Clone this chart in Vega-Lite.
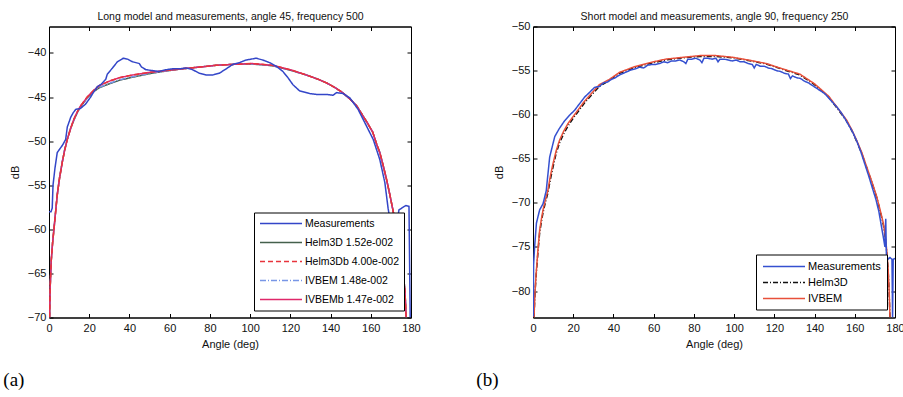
{
  "$schema": "https://vega.github.io/schema/vega-lite/v6.json",
  "background": "white",
  "padding": {"left": 2, "top": 10.5, "right": 0, "bottom": 0},
  "spacing": 54,
  "resolve": {"scale": {"color": "independent", "strokeDash": "independent", "x": "independent", "y": "independent"}, "legend": {"color": "independent", "strokeDash": "independent"}},
  "config": {
    "font": "Liberation Sans",
    "view": {"stroke": "black", "strokeWidth": 1},
    "axis": {
      "grid": false,
      "domainColor": "black",
      "tickColor": "black",
      "labelColor": "#111",
      "titleColor": "#111",
      "labelFontSize": 11,
      "titleFontSize": 11,
      "titleFontWeight": "normal",
      "tickSize": -4,
      "labelPadding": 7,
      "titlePadding": 7,
      "labelFlush": false
    },
    "axisX": {"labelPadding": 9, "titlePadding": 5, "labelFlush": false}
  },
  "datasets": {
    "a": [
      {"series": "Helm3D 1.52e-002", "angle": 0.3, "db": -70},
      {"series": "Helm3D 1.52e-002", "angle": 0.6, "db": -66.5},
      {"series": "Helm3D 1.52e-002", "angle": 1.1, "db": -63.6},
      {"series": "Helm3D 1.52e-002", "angle": 1.8, "db": -61.5},
      {"series": "Helm3D 1.52e-002", "angle": 2.5, "db": -59.9},
      {"series": "Helm3D 1.52e-002", "angle": 3.3, "db": -58},
      {"series": "Helm3D 1.52e-002", "angle": 4.1, "db": -56.1},
      {"series": "Helm3D 1.52e-002", "angle": 5.3, "db": -54.1},
      {"series": "Helm3D 1.52e-002", "angle": 6.6, "db": -52.4},
      {"series": "Helm3D 1.52e-002", "angle": 7.8, "db": -51},
      {"series": "Helm3D 1.52e-002", "angle": 9.1, "db": -49.8},
      {"series": "Helm3D 1.52e-002", "angle": 10.7, "db": -48.6},
      {"series": "Helm3D 1.52e-002", "angle": 12.4, "db": -47.6},
      {"series": "Helm3D 1.52e-002", "angle": 14, "db": -46.8},
      {"series": "Helm3D 1.52e-002", "angle": 15.7, "db": -46.1},
      {"series": "Helm3D 1.52e-002", "angle": 17.4, "db": -45.6},
      {"series": "Helm3D 1.52e-002", "angle": 19, "db": -45.1},
      {"series": "Helm3D 1.52e-002", "angle": 22.4, "db": -44.35},
      {"series": "Helm3D 1.52e-002", "angle": 25, "db": -43.95},
      {"series": "Helm3D 1.52e-002", "angle": 30, "db": -43.5},
      {"series": "Helm3D 1.52e-002", "angle": 35, "db": -43.1},
      {"series": "Helm3D 1.52e-002", "angle": 41.5, "db": -42.75},
      {"series": "Helm3D 1.52e-002", "angle": 50, "db": -42.35},
      {"series": "Helm3D 1.52e-002", "angle": 58, "db": -42.05},
      {"series": "Helm3D 1.52e-002", "angle": 66, "db": -41.8},
      {"series": "Helm3D 1.52e-002", "angle": 75, "db": -41.6},
      {"series": "Helm3D 1.52e-002", "angle": 83, "db": -41.4},
      {"series": "Helm3D 1.52e-002", "angle": 91, "db": -41.3},
      {"series": "Helm3D 1.52e-002", "angle": 101, "db": -41.25},
      {"series": "Helm3D 1.52e-002", "angle": 111, "db": -41.45},
      {"series": "Helm3D 1.52e-002", "angle": 120, "db": -41.95},
      {"series": "Helm3D 1.52e-002", "angle": 128, "db": -42.5},
      {"series": "Helm3D 1.52e-002", "angle": 134, "db": -43.0},
      {"series": "Helm3D 1.52e-002", "angle": 138, "db": -43.4},
      {"series": "Helm3D 1.52e-002", "angle": 142, "db": -43.9},
      {"series": "Helm3D 1.52e-002", "angle": 146, "db": -44.5},
      {"series": "Helm3D 1.52e-002", "angle": 150, "db": -45.3},
      {"series": "Helm3D 1.52e-002", "angle": 153, "db": -46.0},
      {"series": "Helm3D 1.52e-002", "angle": 156, "db": -47.1},
      {"series": "Helm3D 1.52e-002", "angle": 158.5, "db": -48.0},
      {"series": "Helm3D 1.52e-002", "angle": 161, "db": -49.0},
      {"series": "Helm3D 1.52e-002", "angle": 163, "db": -50.4},
      {"series": "Helm3D 1.52e-002", "angle": 164.5, "db": -51.3},
      {"series": "Helm3D 1.52e-002", "angle": 166.2, "db": -52.8},
      {"series": "Helm3D 1.52e-002", "angle": 167.8, "db": -54.3},
      {"series": "Helm3D 1.52e-002", "angle": 169.5, "db": -56.1},
      {"series": "Helm3D 1.52e-002", "angle": 171, "db": -57.8},
      {"series": "Helm3D 1.52e-002", "angle": 172, "db": -59.0},
      {"series": "Helm3D 1.52e-002", "angle": 173, "db": -60.3},
      {"series": "Helm3D 1.52e-002", "angle": 174, "db": -61.6},
      {"series": "Helm3D 1.52e-002", "angle": 175, "db": -63},
      {"series": "Helm3D 1.52e-002", "angle": 176, "db": -64.6},
      {"series": "Helm3D 1.52e-002", "angle": 177, "db": -67},
      {"series": "Helm3D 1.52e-002", "angle": 177.6, "db": -70},

      {"series": "IVBEM 1.48e-002", "angle": 0.3, "db": -70},
      {"series": "IVBEM 1.48e-002", "angle": 0.6, "db": -66.4},
      {"series": "IVBEM 1.48e-002", "angle": 1.1, "db": -63.5},
      {"series": "IVBEM 1.48e-002", "angle": 1.8, "db": -61.4},
      {"series": "IVBEM 1.48e-002", "angle": 2.5, "db": -59.8},
      {"series": "IVBEM 1.48e-002", "angle": 3.3, "db": -57.9},
      {"series": "IVBEM 1.48e-002", "angle": 4.1, "db": -56.0},
      {"series": "IVBEM 1.48e-002", "angle": 5.3, "db": -54.0},
      {"series": "IVBEM 1.48e-002", "angle": 6.6, "db": -52.3},
      {"series": "IVBEM 1.48e-002", "angle": 7.8, "db": -50.9},
      {"series": "IVBEM 1.48e-002", "angle": 9.1, "db": -49.8},
      {"series": "IVBEM 1.48e-002", "angle": 10.7, "db": -48.6},
      {"series": "IVBEM 1.48e-002", "angle": 12.4, "db": -47.6},
      {"series": "IVBEM 1.48e-002", "angle": 14, "db": -46.8},
      {"series": "IVBEM 1.48e-002", "angle": 15.7, "db": -46.1},
      {"series": "IVBEM 1.48e-002", "angle": 17.4, "db": -45.6},
      {"series": "IVBEM 1.48e-002", "angle": 19, "db": -45.1},
      {"series": "IVBEM 1.48e-002", "angle": 22.4, "db": -44.3},
      {"series": "IVBEM 1.48e-002", "angle": 25, "db": -43.9},
      {"series": "IVBEM 1.48e-002", "angle": 30, "db": -43.45},
      {"series": "IVBEM 1.48e-002", "angle": 35, "db": -43.05},
      {"series": "IVBEM 1.48e-002", "angle": 41.5, "db": -42.7},
      {"series": "IVBEM 1.48e-002", "angle": 50, "db": -42.3},
      {"series": "IVBEM 1.48e-002", "angle": 58, "db": -42.05},
      {"series": "IVBEM 1.48e-002", "angle": 66, "db": -41.8},
      {"series": "IVBEM 1.48e-002", "angle": 75, "db": -41.6},
      {"series": "IVBEM 1.48e-002", "angle": 83, "db": -41.4},
      {"series": "IVBEM 1.48e-002", "angle": 91, "db": -41.3},
      {"series": "IVBEM 1.48e-002", "angle": 101, "db": -41.25},
      {"series": "IVBEM 1.48e-002", "angle": 111, "db": -41.45},
      {"series": "IVBEM 1.48e-002", "angle": 120, "db": -41.95},
      {"series": "IVBEM 1.48e-002", "angle": 128, "db": -42.5},
      {"series": "IVBEM 1.48e-002", "angle": 134, "db": -43.0},
      {"series": "IVBEM 1.48e-002", "angle": 138, "db": -43.4},
      {"series": "IVBEM 1.48e-002", "angle": 142, "db": -43.9},
      {"series": "IVBEM 1.48e-002", "angle": 146, "db": -44.5},
      {"series": "IVBEM 1.48e-002", "angle": 150, "db": -45.3},
      {"series": "IVBEM 1.48e-002", "angle": 153, "db": -46.0},
      {"series": "IVBEM 1.48e-002", "angle": 156, "db": -47.1},
      {"series": "IVBEM 1.48e-002", "angle": 158.5, "db": -48.0},
      {"series": "IVBEM 1.48e-002", "angle": 161, "db": -49.0},
      {"series": "IVBEM 1.48e-002", "angle": 163, "db": -50.4},
      {"series": "IVBEM 1.48e-002", "angle": 164.5, "db": -51.3},
      {"series": "IVBEM 1.48e-002", "angle": 166.2, "db": -52.8},
      {"series": "IVBEM 1.48e-002", "angle": 167.8, "db": -54.3},
      {"series": "IVBEM 1.48e-002", "angle": 169.5, "db": -56.1},
      {"series": "IVBEM 1.48e-002", "angle": 171, "db": -57.8},
      {"series": "IVBEM 1.48e-002", "angle": 172, "db": -59.0},
      {"series": "IVBEM 1.48e-002", "angle": 173, "db": -60.3},
      {"series": "IVBEM 1.48e-002", "angle": 174, "db": -61.6},
      {"series": "IVBEM 1.48e-002", "angle": 175, "db": -63},
      {"series": "IVBEM 1.48e-002", "angle": 176, "db": -64.6},
      {"series": "IVBEM 1.48e-002", "angle": 177, "db": -67},
      {"series": "IVBEM 1.48e-002", "angle": 177.6, "db": -70},

      {"series": "IVBEMb 1.47e-002", "angle": 0.3, "db": -70},
      {"series": "IVBEMb 1.47e-002", "angle": 0.6, "db": -66.5},
      {"series": "IVBEMb 1.47e-002", "angle": 1.1, "db": -63.6},
      {"series": "IVBEMb 1.47e-002", "angle": 1.8, "db": -61.5},
      {"series": "IVBEMb 1.47e-002", "angle": 2.5, "db": -59.9},
      {"series": "IVBEMb 1.47e-002", "angle": 3.3, "db": -58},
      {"series": "IVBEMb 1.47e-002", "angle": 4.1, "db": -56.1},
      {"series": "IVBEMb 1.47e-002", "angle": 5.3, "db": -54.1},
      {"series": "IVBEMb 1.47e-002", "angle": 6.6, "db": -52.4},
      {"series": "IVBEMb 1.47e-002", "angle": 7.8, "db": -51},
      {"series": "IVBEMb 1.47e-002", "angle": 9.1, "db": -49.8},
      {"series": "IVBEMb 1.47e-002", "angle": 10.7, "db": -48.6},
      {"series": "IVBEMb 1.47e-002", "angle": 12.4, "db": -47.5},
      {"series": "IVBEMb 1.47e-002", "angle": 14, "db": -46.7},
      {"series": "IVBEMb 1.47e-002", "angle": 15.7, "db": -46.0},
      {"series": "IVBEMb 1.47e-002", "angle": 17.4, "db": -45.5},
      {"series": "IVBEMb 1.47e-002", "angle": 19, "db": -45.0},
      {"series": "IVBEMb 1.47e-002", "angle": 22.4, "db": -44.2},
      {"series": "IVBEMb 1.47e-002", "angle": 25, "db": -43.7},
      {"series": "IVBEMb 1.47e-002", "angle": 30, "db": -43.2},
      {"series": "IVBEMb 1.47e-002", "angle": 35, "db": -42.8},
      {"series": "IVBEMb 1.47e-002", "angle": 41.5, "db": -42.5},
      {"series": "IVBEMb 1.47e-002", "angle": 50, "db": -42.2},
      {"series": "IVBEMb 1.47e-002", "angle": 58, "db": -42.0},
      {"series": "IVBEMb 1.47e-002", "angle": 66, "db": -41.8},
      {"series": "IVBEMb 1.47e-002", "angle": 75, "db": -41.6},
      {"series": "IVBEMb 1.47e-002", "angle": 83, "db": -41.4},
      {"series": "IVBEMb 1.47e-002", "angle": 91, "db": -41.3},
      {"series": "IVBEMb 1.47e-002", "angle": 101, "db": -41.2},
      {"series": "IVBEMb 1.47e-002", "angle": 111, "db": -41.4},
      {"series": "IVBEMb 1.47e-002", "angle": 120, "db": -41.9},
      {"series": "IVBEMb 1.47e-002", "angle": 128, "db": -42.5},
      {"series": "IVBEMb 1.47e-002", "angle": 134, "db": -43.0},
      {"series": "IVBEMb 1.47e-002", "angle": 138, "db": -43.4},
      {"series": "IVBEMb 1.47e-002", "angle": 142, "db": -43.9},
      {"series": "IVBEMb 1.47e-002", "angle": 146, "db": -44.5},
      {"series": "IVBEMb 1.47e-002", "angle": 150, "db": -45.3},
      {"series": "IVBEMb 1.47e-002", "angle": 153, "db": -46.0},
      {"series": "IVBEMb 1.47e-002", "angle": 156, "db": -47.1},
      {"series": "IVBEMb 1.47e-002", "angle": 158.5, "db": -48.0},
      {"series": "IVBEMb 1.47e-002", "angle": 161, "db": -49.0},
      {"series": "IVBEMb 1.47e-002", "angle": 163, "db": -50.4},
      {"series": "IVBEMb 1.47e-002", "angle": 164.5, "db": -51.3},
      {"series": "IVBEMb 1.47e-002", "angle": 166.2, "db": -52.8},
      {"series": "IVBEMb 1.47e-002", "angle": 167.8, "db": -54.3},
      {"series": "IVBEMb 1.47e-002", "angle": 169.5, "db": -56.1},
      {"series": "IVBEMb 1.47e-002", "angle": 171, "db": -57.8},
      {"series": "IVBEMb 1.47e-002", "angle": 172, "db": -59.0},
      {"series": "IVBEMb 1.47e-002", "angle": 173, "db": -60.3},
      {"series": "IVBEMb 1.47e-002", "angle": 174, "db": -61.6},
      {"series": "IVBEMb 1.47e-002", "angle": 175, "db": -63},
      {"series": "IVBEMb 1.47e-002", "angle": 176, "db": -64.6},
      {"series": "IVBEMb 1.47e-002", "angle": 177, "db": -67},
      {"series": "IVBEMb 1.47e-002", "angle": 177.6, "db": -70},

      {"series": "Helm3Db 4.00e-002", "angle": 0.3, "db": -70},
      {"series": "Helm3Db 4.00e-002", "angle": 0.6, "db": -66.5},
      {"series": "Helm3Db 4.00e-002", "angle": 1.1, "db": -63.6},
      {"series": "Helm3Db 4.00e-002", "angle": 1.8, "db": -61.5},
      {"series": "Helm3Db 4.00e-002", "angle": 2.5, "db": -59.9},
      {"series": "Helm3Db 4.00e-002", "angle": 3.3, "db": -58},
      {"series": "Helm3Db 4.00e-002", "angle": 4.1, "db": -56.1},
      {"series": "Helm3Db 4.00e-002", "angle": 5.3, "db": -54.1},
      {"series": "Helm3Db 4.00e-002", "angle": 6.6, "db": -52.4},
      {"series": "Helm3Db 4.00e-002", "angle": 7.8, "db": -51},
      {"series": "Helm3Db 4.00e-002", "angle": 9.1, "db": -49.8},
      {"series": "Helm3Db 4.00e-002", "angle": 10.7, "db": -48.6},
      {"series": "Helm3Db 4.00e-002", "angle": 12.4, "db": -47.5},
      {"series": "Helm3Db 4.00e-002", "angle": 14, "db": -46.7},
      {"series": "Helm3Db 4.00e-002", "angle": 15.7, "db": -46.0},
      {"series": "Helm3Db 4.00e-002", "angle": 17.4, "db": -45.5},
      {"series": "Helm3Db 4.00e-002", "angle": 19, "db": -45.0},
      {"series": "Helm3Db 4.00e-002", "angle": 22.4, "db": -44.2},
      {"series": "Helm3Db 4.00e-002", "angle": 25, "db": -43.7},
      {"series": "Helm3Db 4.00e-002", "angle": 30, "db": -43.2},
      {"series": "Helm3Db 4.00e-002", "angle": 35, "db": -42.8},
      {"series": "Helm3Db 4.00e-002", "angle": 41.5, "db": -42.5},
      {"series": "Helm3Db 4.00e-002", "angle": 50, "db": -42.2},
      {"series": "Helm3Db 4.00e-002", "angle": 58, "db": -42.0},
      {"series": "Helm3Db 4.00e-002", "angle": 66, "db": -41.8},
      {"series": "Helm3Db 4.00e-002", "angle": 75, "db": -41.6},
      {"series": "Helm3Db 4.00e-002", "angle": 83, "db": -41.4},
      {"series": "Helm3Db 4.00e-002", "angle": 91, "db": -41.3},
      {"series": "Helm3Db 4.00e-002", "angle": 101, "db": -41.2},
      {"series": "Helm3Db 4.00e-002", "angle": 111, "db": -41.4},
      {"series": "Helm3Db 4.00e-002", "angle": 120, "db": -41.9},
      {"series": "Helm3Db 4.00e-002", "angle": 128, "db": -42.5},
      {"series": "Helm3Db 4.00e-002", "angle": 134, "db": -43.0},
      {"series": "Helm3Db 4.00e-002", "angle": 138, "db": -43.4},
      {"series": "Helm3Db 4.00e-002", "angle": 142, "db": -43.9},
      {"series": "Helm3Db 4.00e-002", "angle": 146, "db": -44.5},
      {"series": "Helm3Db 4.00e-002", "angle": 150, "db": -45.3},
      {"series": "Helm3Db 4.00e-002", "angle": 153, "db": -46.0},
      {"series": "Helm3Db 4.00e-002", "angle": 156, "db": -47.1},
      {"series": "Helm3Db 4.00e-002", "angle": 158.5, "db": -48.0},
      {"series": "Helm3Db 4.00e-002", "angle": 161, "db": -49.0},
      {"series": "Helm3Db 4.00e-002", "angle": 163, "db": -50.4},
      {"series": "Helm3Db 4.00e-002", "angle": 164.5, "db": -51.3},
      {"series": "Helm3Db 4.00e-002", "angle": 166.2, "db": -52.8},
      {"series": "Helm3Db 4.00e-002", "angle": 167.8, "db": -54.3},
      {"series": "Helm3Db 4.00e-002", "angle": 169.5, "db": -56.1},
      {"series": "Helm3Db 4.00e-002", "angle": 171, "db": -57.8},
      {"series": "Helm3Db 4.00e-002", "angle": 172, "db": -59.0},
      {"series": "Helm3Db 4.00e-002", "angle": 173, "db": -60.3},
      {"series": "Helm3Db 4.00e-002", "angle": 174, "db": -61.6},
      {"series": "Helm3Db 4.00e-002", "angle": 175, "db": -63},
      {"series": "Helm3Db 4.00e-002", "angle": 176, "db": -64.6},
      {"series": "Helm3Db 4.00e-002", "angle": 177, "db": -67},
      {"series": "Helm3Db 4.00e-002", "angle": 177.6, "db": -70},

      {"series": "Measurements", "angle": 0, "db": -58.0},
      {"series": "Measurements", "angle": 1, "db": -58.0},
      {"series": "Measurements", "angle": 1.6, "db": -57.6},
      {"series": "Measurements", "angle": 2, "db": -55},
      {"series": "Measurements", "angle": 3, "db": -53},
      {"series": "Measurements", "angle": 4.1, "db": -51.3},
      {"series": "Measurements", "angle": 5, "db": -51.0},
      {"series": "Measurements", "angle": 6.6, "db": -50.5},
      {"series": "Measurements", "angle": 8.3, "db": -49.8},
      {"series": "Measurements", "angle": 9.1, "db": -48.4},
      {"series": "Measurements", "angle": 10.8, "db": -47.3},
      {"series": "Measurements", "angle": 12, "db": -46.8},
      {"series": "Measurements", "angle": 13.3, "db": -46.4},
      {"series": "Measurements", "angle": 15.6, "db": -46.3},
      {"series": "Measurements", "angle": 18.2, "db": -45.8},
      {"series": "Measurements", "angle": 20.7, "db": -45.0},
      {"series": "Measurements", "angle": 22, "db": -44.5},
      {"series": "Measurements", "angle": 24.1, "db": -43.8},
      {"series": "Measurements", "angle": 25.7, "db": -43.6},
      {"series": "Measurements", "angle": 28.2, "db": -43.0},
      {"series": "Measurements", "angle": 29, "db": -42.4},
      {"series": "Measurements", "angle": 31.6, "db": -41.7},
      {"series": "Measurements", "angle": 34, "db": -41.0},
      {"series": "Measurements", "angle": 36.9, "db": -40.6},
      {"series": "Measurements", "angle": 39, "db": -40.7},
      {"series": "Measurements", "angle": 41.5, "db": -41.0},
      {"series": "Measurements", "angle": 44.9, "db": -41.2},
      {"series": "Measurements", "angle": 46, "db": -41.6},
      {"series": "Measurements", "angle": 48.2, "db": -41.9},
      {"series": "Measurements", "angle": 51.5, "db": -42.0},
      {"series": "Measurements", "angle": 54.8, "db": -42.1},
      {"series": "Measurements", "angle": 58.2, "db": -41.9},
      {"series": "Measurements", "angle": 61.5, "db": -41.8},
      {"series": "Measurements", "angle": 65, "db": -41.8},
      {"series": "Measurements", "angle": 68.1, "db": -41.7},
      {"series": "Measurements", "angle": 71.4, "db": -41.9},
      {"series": "Measurements", "angle": 74.8, "db": -42.3},
      {"series": "Measurements", "angle": 78.1, "db": -42.5},
      {"series": "Measurements", "angle": 81.4, "db": -42.5},
      {"series": "Measurements", "angle": 84.7, "db": -42.3},
      {"series": "Measurements", "angle": 88.1, "db": -41.8},
      {"series": "Measurements", "angle": 91.4, "db": -41.3},
      {"series": "Measurements", "angle": 94.7, "db": -41.1},
      {"series": "Measurements", "angle": 98, "db": -40.8},
      {"series": "Measurements", "angle": 103, "db": -40.6},
      {"series": "Measurements", "angle": 106.3, "db": -40.8},
      {"series": "Measurements", "angle": 109.7, "db": -41.1},
      {"series": "Measurements", "angle": 113, "db": -41.5},
      {"series": "Measurements", "angle": 116.3, "db": -42.1},
      {"series": "Measurements", "angle": 118.8, "db": -42.8},
      {"series": "Measurements", "angle": 121.3, "db": -43.6},
      {"series": "Measurements", "angle": 124.6, "db": -44.3},
      {"series": "Measurements", "angle": 129.6, "db": -44.6},
      {"series": "Measurements", "angle": 133, "db": -44.7},
      {"series": "Measurements", "angle": 137.9, "db": -44.7},
      {"series": "Measurements", "angle": 141.2, "db": -44.8},
      {"series": "Measurements", "angle": 143, "db": -44.5},
      {"series": "Measurements", "angle": 146.2, "db": -44.6},
      {"series": "Measurements", "angle": 149.6, "db": -45.1},
      {"series": "Measurements", "angle": 153.7, "db": -46.4},
      {"series": "Measurements", "angle": 157.9, "db": -48.3},
      {"series": "Measurements", "angle": 161.2, "db": -49.8},
      {"series": "Measurements", "angle": 164.5, "db": -52.1},
      {"series": "Measurements", "angle": 167, "db": -54.7},
      {"series": "Measurements", "angle": 168.6, "db": -57.6},
      {"series": "Measurements", "angle": 170, "db": -59.5},
      {"series": "Measurements", "angle": 171.5, "db": -61},
      {"series": "Measurements", "angle": 173, "db": -59.5},
      {"series": "Measurements", "angle": 174, "db": -57.8},
      {"series": "Measurements", "angle": 176, "db": -57.5},
      {"series": "Measurements", "angle": 177.5, "db": -57.3},
      {"series": "Measurements", "angle": 179, "db": -57.4},
      {"series": "Measurements", "angle": 179.6, "db": -70}
    ],
    "b": [
      {"series": "Helm3D", "angle": 0.5, "db": -83},
      {"series": "Helm3D", "angle": 1, "db": -80.2},
      {"series": "Helm3D", "angle": 1.7, "db": -77.8},
      {"series": "Helm3D", "angle": 2.5, "db": -75.5},
      {"series": "Helm3D", "angle": 3.3, "db": -73.4},
      {"series": "Helm3D", "angle": 4.2, "db": -72.1},
      {"series": "Helm3D", "angle": 5, "db": -71.1},
      {"series": "Helm3D", "angle": 6, "db": -70.1},
      {"series": "Helm3D", "angle": 7.4, "db": -68.9},
      {"series": "Helm3D", "angle": 8.6, "db": -67.4},
      {"series": "Helm3D", "angle": 9.9, "db": -66.0},
      {"series": "Helm3D", "angle": 11.5, "db": -64.4},
      {"series": "Helm3D", "angle": 13.2, "db": -63.2},
      {"series": "Helm3D", "angle": 15.2, "db": -62.2},
      {"series": "Helm3D", "angle": 17.4, "db": -61.3},
      {"series": "Helm3D", "angle": 20, "db": -60.4},
      {"series": "Helm3D", "angle": 22.3, "db": -59.7},
      {"series": "Helm3D", "angle": 25.5, "db": -58.7},
      {"series": "Helm3D", "angle": 29, "db": -57.8},
      {"series": "Helm3D", "angle": 33, "db": -56.8},
      {"series": "Helm3D", "angle": 38, "db": -56.1},
      {"series": "Helm3D", "angle": 43, "db": -55.3},
      {"series": "Helm3D", "angle": 50, "db": -54.7},
      {"series": "Helm3D", "angle": 58, "db": -54.2},
      {"series": "Helm3D", "angle": 66, "db": -53.8},
      {"series": "Helm3D", "angle": 74.5, "db": -53.55},
      {"series": "Helm3D", "angle": 83, "db": -53.4},
      {"series": "Helm3D", "angle": 91, "db": -53.4},
      {"series": "Helm3D", "angle": 99.5, "db": -53.55},
      {"series": "Helm3D", "angle": 107, "db": -53.85},
      {"series": "Helm3D", "angle": 116, "db": -54.25},
      {"series": "Helm3D", "angle": 124, "db": -54.85},
      {"series": "Helm3D", "angle": 132.7, "db": -55.5},
      {"series": "Helm3D", "angle": 140, "db": -56.6},
      {"series": "Helm3D", "angle": 147, "db": -58.0},
      {"series": "Helm3D", "angle": 152, "db": -59.5},
      {"series": "Helm3D", "angle": 155.9, "db": -60.7},
      {"series": "Helm3D", "angle": 158.5, "db": -61.8},
      {"series": "Helm3D", "angle": 160.9, "db": -63.0},
      {"series": "Helm3D", "angle": 163.5, "db": -64.4},
      {"series": "Helm3D", "angle": 165.9, "db": -66.0},
      {"series": "Helm3D", "angle": 168.5, "db": -67.7},
      {"series": "Helm3D", "angle": 170.9, "db": -69.4},
      {"series": "Helm3D", "angle": 172.5, "db": -70.8},
      {"series": "Helm3D", "angle": 174.2, "db": -72.5},
      {"series": "Helm3D", "angle": 175.2, "db": -74.0},
      {"series": "Helm3D", "angle": 175.9, "db": -75.6},
      {"series": "Helm3D", "angle": 176.6, "db": -77.7},
      {"series": "Helm3D", "angle": 177.1, "db": -80.2},
      {"series": "Helm3D", "angle": 177.5, "db": -83},

      {"series": "IVBEM", "angle": 0.5, "db": -83},
      {"series": "IVBEM", "angle": 1, "db": -80},
      {"series": "IVBEM", "angle": 1.7, "db": -77.6},
      {"series": "IVBEM", "angle": 2.5, "db": -75.2},
      {"series": "IVBEM", "angle": 3.3, "db": -73.1},
      {"series": "IVBEM", "angle": 4.2, "db": -71.8},
      {"series": "IVBEM", "angle": 5, "db": -70.8},
      {"series": "IVBEM", "angle": 6, "db": -69.8},
      {"series": "IVBEM", "angle": 7.4, "db": -68.6},
      {"series": "IVBEM", "angle": 8.6, "db": -67},
      {"series": "IVBEM", "angle": 9.9, "db": -65.6},
      {"series": "IVBEM", "angle": 11.5, "db": -64.1},
      {"series": "IVBEM", "angle": 13.2, "db": -62.9},
      {"series": "IVBEM", "angle": 15.2, "db": -61.9},
      {"series": "IVBEM", "angle": 17.4, "db": -61.0},
      {"series": "IVBEM", "angle": 20, "db": -60.2},
      {"series": "IVBEM", "angle": 22.3, "db": -59.5},
      {"series": "IVBEM", "angle": 25.5, "db": -58.5},
      {"series": "IVBEM", "angle": 29, "db": -57.6},
      {"series": "IVBEM", "angle": 33, "db": -56.6},
      {"series": "IVBEM", "angle": 38, "db": -56.0},
      {"series": "IVBEM", "angle": 43, "db": -55.2},
      {"series": "IVBEM", "angle": 50, "db": -54.6},
      {"series": "IVBEM", "angle": 58, "db": -54.1},
      {"series": "IVBEM", "angle": 66, "db": -53.7},
      {"series": "IVBEM", "angle": 74.5, "db": -53.5},
      {"series": "IVBEM", "angle": 83, "db": -53.3},
      {"series": "IVBEM", "angle": 91, "db": -53.3},
      {"series": "IVBEM", "angle": 99.5, "db": -53.5},
      {"series": "IVBEM", "angle": 107, "db": -53.8},
      {"series": "IVBEM", "angle": 116, "db": -54.2},
      {"series": "IVBEM", "angle": 124, "db": -54.8},
      {"series": "IVBEM", "angle": 132.7, "db": -55.4},
      {"series": "IVBEM", "angle": 140, "db": -56.5},
      {"series": "IVBEM", "angle": 147, "db": -57.9},
      {"series": "IVBEM", "angle": 152, "db": -59.4},
      {"series": "IVBEM", "angle": 155.9, "db": -60.6},
      {"series": "IVBEM", "angle": 158.5, "db": -61.7},
      {"series": "IVBEM", "angle": 160.9, "db": -62.9},
      {"series": "IVBEM", "angle": 163.5, "db": -64.3},
      {"series": "IVBEM", "angle": 165.9, "db": -65.9},
      {"series": "IVBEM", "angle": 168.5, "db": -67.6},
      {"series": "IVBEM", "angle": 170.9, "db": -69.3},
      {"series": "IVBEM", "angle": 172.5, "db": -70.7},
      {"series": "IVBEM", "angle": 174.2, "db": -72.3},
      {"series": "IVBEM", "angle": 175.2, "db": -73.8},
      {"series": "IVBEM", "angle": 175.9, "db": -75.4},
      {"series": "IVBEM", "angle": 176.6, "db": -77.5},
      {"series": "IVBEM", "angle": 177.1, "db": -80},
      {"series": "IVBEM", "angle": 177.5, "db": -83},

      {"series": "Measurements", "angle": 0.1, "db": -82.9},
      {"series": "Measurements", "angle": 0.3, "db": -77},
      {"series": "Measurements", "angle": 0.8, "db": -75},
      {"series": "Measurements", "angle": 1.7, "db": -72.3},
      {"series": "Measurements", "angle": 3.3, "db": -70.8},
      {"series": "Measurements", "angle": 5, "db": -70.1},
      {"series": "Measurements", "angle": 6.6, "db": -68.6},
      {"series": "Measurements", "angle": 8.3, "db": -64.8},
      {"series": "Measurements", "angle": 10.8, "db": -62.5},
      {"series": "Measurements", "angle": 13, "db": -61.6},
      {"series": "Measurements", "angle": 15.7, "db": -60.7},
      {"series": "Measurements", "angle": 18, "db": -60.1},
      {"series": "Measurements", "angle": 20.7, "db": -59.5},
      {"series": "Measurements", "angle": 23, "db": -58.8},
      {"series": "Measurements", "angle": 25.7, "db": -58.0},
      {"series": "Measurements", "angle": 28, "db": -57.5},
      {"series": "Measurements", "angle": 30.6, "db": -56.9},
      {"series": "Measurements", "angle": 33, "db": -56.8},
      {"series": "Measurements", "angle": 35, "db": -56.4},
      {"series": "Measurements", "angle": 37, "db": -56.3},
      {"series": "Measurements", "angle": 39, "db": -56.0},
      {"series": "Measurements", "angle": 41, "db": -55.8},
      {"series": "Measurements", "angle": 43, "db": -55.5},
      {"series": "Measurements", "angle": 45, "db": -55.3},
      {"series": "Measurements", "angle": 47, "db": -55.1},
      {"series": "Measurements", "angle": 49, "db": -54.9},
      {"series": "Measurements", "angle": 51, "db": -54.8},
      {"series": "Measurements", "angle": 53, "db": -54.6},
      {"series": "Measurements", "angle": 55, "db": -54.7},
      {"series": "Measurements", "angle": 57, "db": -54.4},
      {"series": "Measurements", "angle": 59, "db": -54.3},
      {"series": "Measurements", "angle": 61, "db": -54.3},
      {"series": "Measurements", "angle": 63, "db": -54.2},
      {"series": "Measurements", "angle": 65, "db": -54.0},
      {"series": "Measurements", "angle": 67, "db": -54.1},
      {"series": "Measurements", "angle": 69, "db": -53.9},
      {"series": "Measurements", "angle": 71, "db": -53.9},
      {"series": "Measurements", "angle": 73, "db": -53.8},
      {"series": "Measurements", "angle": 75, "db": -54.0},
      {"series": "Measurements", "angle": 76, "db": -54.2},
      {"series": "Measurements", "angle": 77, "db": -53.7},
      {"series": "Measurements", "angle": 79, "db": -53.7},
      {"series": "Measurements", "angle": 81, "db": -53.6},
      {"series": "Measurements", "angle": 83, "db": -53.8},
      {"series": "Measurements", "angle": 84, "db": -54.1},
      {"series": "Measurements", "angle": 85, "db": -53.6},
      {"series": "Measurements", "angle": 87, "db": -53.6},
      {"series": "Measurements", "angle": 89, "db": -53.7},
      {"series": "Measurements", "angle": 91, "db": -53.6},
      {"series": "Measurements", "angle": 92, "db": -54.0},
      {"series": "Measurements", "angle": 93, "db": -53.7},
      {"series": "Measurements", "angle": 95, "db": -53.7},
      {"series": "Measurements", "angle": 97, "db": -53.8},
      {"series": "Measurements", "angle": 99, "db": -53.9},
      {"series": "Measurements", "angle": 101, "db": -53.8},
      {"series": "Measurements", "angle": 103, "db": -54.0},
      {"series": "Measurements", "angle": 105, "db": -54.0},
      {"series": "Measurements", "angle": 107, "db": -54.2},
      {"series": "Measurements", "angle": 109, "db": -54.3},
      {"series": "Measurements", "angle": 110, "db": -54.7},
      {"series": "Measurements", "angle": 111, "db": -54.3},
      {"series": "Measurements", "angle": 113, "db": -54.5},
      {"series": "Measurements", "angle": 115, "db": -54.5},
      {"series": "Measurements", "angle": 117, "db": -54.7},
      {"series": "Measurements", "angle": 119, "db": -54.8},
      {"series": "Measurements", "angle": 121, "db": -55.0},
      {"series": "Measurements", "angle": 123, "db": -55.1},
      {"series": "Measurements", "angle": 125, "db": -55.3},
      {"series": "Measurements", "angle": 127, "db": -55.4},
      {"series": "Measurements", "angle": 128, "db": -55.9},
      {"series": "Measurements", "angle": 129, "db": -55.6},
      {"series": "Measurements", "angle": 131, "db": -55.8},
      {"series": "Measurements", "angle": 133, "db": -55.9},
      {"series": "Measurements", "angle": 135, "db": -56.2},
      {"series": "Measurements", "angle": 137, "db": -56.4},
      {"series": "Measurements", "angle": 139, "db": -56.7},
      {"series": "Measurements", "angle": 141, "db": -57.0},
      {"series": "Measurements", "angle": 143, "db": -57.3},
      {"series": "Measurements", "angle": 145, "db": -57.6},
      {"series": "Measurements", "angle": 147, "db": -58.1},
      {"series": "Measurements", "angle": 149, "db": -58.6},
      {"series": "Measurements", "angle": 151, "db": -59.1},
      {"series": "Measurements", "angle": 153, "db": -59.7},
      {"series": "Measurements", "angle": 155, "db": -60.4},
      {"series": "Measurements", "angle": 157, "db": -61.2},
      {"series": "Measurements", "angle": 159, "db": -62.0},
      {"series": "Measurements", "angle": 161, "db": -63.0},
      {"series": "Measurements", "angle": 163, "db": -64.2},
      {"series": "Measurements", "angle": 165, "db": -65.6},
      {"series": "Measurements", "angle": 167, "db": -67.0},
      {"series": "Measurements", "angle": 169, "db": -68.5},
      {"series": "Measurements", "angle": 170.5, "db": -69.6},
      {"series": "Measurements", "angle": 172, "db": -71.0},
      {"series": "Measurements", "angle": 173.2, "db": -72.6},
      {"series": "Measurements", "angle": 174.2, "db": -73.9},
      {"series": "Measurements", "angle": 175, "db": -75.0},
      {"series": "Measurements", "angle": 175.4, "db": -71.8},
      {"series": "Measurements", "angle": 175.7, "db": -75.8},
      {"series": "Measurements", "angle": 176.5, "db": -76.4},
      {"series": "Measurements", "angle": 177.5, "db": -76.2},
      {"series": "Measurements", "angle": 178.5, "db": -76.4},
      {"series": "Measurements", "angle": 178.8, "db": -83},
      {"series": "Measurements", "angle": 179.1, "db": -76.4},
      {"series": "Measurements", "angle": 180, "db": -76.3}
    ]
  },
  "hconcat": [
    {
      "width": 362,
      "height": 291,
      "data": {"name": "a"},
      "title": {"text": "(a)", "orient": "bottom", "anchor": "start", "frame": "bounds", "font": "Liberation Serif", "fontSize": 19, "fontWeight": "normal", "color": "black", "offset": 21, "dx": -6},
      "layer": [
        {
          "mark": {"type": "line", "strokeWidth": 1.5, "clip": true},
          "encoding": {
            "x": {"field": "angle", "type": "quantitative", "scale": {"domain": [0, 180], "nice": false, "zero": false}, "axis": {"orient": "bottom", "title": "Angle (deg)", "values": [0, 20, 40, 60, 80, 100, 120, 140, 160, 180]}},
            "y": {"field": "db", "type": "quantitative", "scale": {"domain": [-70, -37], "nice": false, "zero": false}, "axis": {"orient": "left", "title": "dB", "values": [-70, -65, -60, -55, -50, -45, -40]}},
            "color": {"field": "series", "type": "nominal",
              "scale": {"domain": ["Measurements", "Helm3D 1.52e-002", "Helm3Db 4.00e-002", "IVBEM 1.48e-002", "IVBEMb 1.47e-002"], "range": ["#3346c8", "#44604c", "#e8343c", "#7896e6", "#e0286a"]},
              "legend": {"title": null, "orient": "bottom-right", "offset": 7, "strokeColor": "black", "fillColor": "white", "padding": 5, "symbolType": "M-1,0H7.4", "symbolSize": 100, "symbolStrokeWidth": 1.3, "labelOffset": 34, "labelFontSize": 10.5, "labelColor": "black", "rowPadding": 7, "cornerRadius": 0}},
            "strokeDash": {"field": "series", "type": "nominal",
              "scale": {"domain": ["Measurements", "Helm3D 1.52e-002", "Helm3Db 4.00e-002", "IVBEM 1.48e-002", "IVBEMb 1.47e-002"], "range": [[1, 0], [1, 0], [5, 3], [6, 2, 1, 2], [1, 0]]},
              "legend": {"title": null, "orient": "bottom-right", "offset": 7, "strokeColor": "black", "fillColor": "white", "padding": 5, "symbolType": "M-1,0H7.4", "symbolSize": 100, "symbolStrokeWidth": 1.3, "labelOffset": 34, "labelFontSize": 10.5, "labelColor": "black", "rowPadding": 7, "cornerRadius": 0}}
          }
        },
        {
          "mark": {"type": "line", "opacity": 0},
          "encoding": {
            "x": {"field": "angle", "type": "quantitative", "scale": {"domain": [0, 180], "nice": false, "zero": false}, "axis": {"orient": "top", "labels": false, "title": "Long model and measurements, angle 45, frequency 500", "titleFontSize": 10.5, "titlePadding": 5, "values": [0, 20, 40, 60, 80, 100, 120, 140, 160, 180]}},
            "y": {"field": "db", "type": "quantitative", "scale": {"domain": [-70, -37], "nice": false, "zero": false}, "axis": {"orient": "right", "labels": false, "title": null, "values": [-70, -65, -60, -55, -50, -45, -40]}},
            "detail": {"field": "series"}
          }
        }
      ],
      "resolve": {"axis": {"x": "independent", "y": "independent"}}
    },
    {
      "width": 362,
      "height": 291,
      "data": {"name": "b"},
      "title": {"text": "(b)", "orient": "bottom", "anchor": "start", "frame": "bounds", "font": "Liberation Serif", "fontSize": 19, "fontWeight": "normal", "color": "black", "offset": 21, "dx": -17},
      "layer": [
        {
          "mark": {"type": "line", "strokeWidth": 1.5, "clip": true},
          "encoding": {
            "x": {"field": "angle", "type": "quantitative", "scale": {"domain": [0, 180], "nice": false, "zero": false}, "axis": {"orient": "bottom", "title": "Angle (deg)", "values": [0, 20, 40, 60, 80, 100, 120, 140, 160, 180]}},
            "y": {"field": "db", "type": "quantitative", "scale": {"domain": [-83, -50], "nice": false, "zero": false}, "axis": {"orient": "left", "title": "dB", "values": [-80, -75, -70, -65, -60, -55, -50]}},
            "color": {"field": "series", "type": "nominal",
              "scale": {"domain": ["Measurements", "Helm3D", "IVBEM"], "range": ["#3550d0", "#111111", "#e8503a"]},
              "legend": {"title": null, "orient": "bottom-right", "offset": 8, "strokeColor": "black", "fillColor": "white", "padding": 6, "symbolType": "M-1,0H7.4", "symbolSize": 100, "symbolStrokeWidth": 1.3, "labelOffset": 34, "labelFontSize": 11, "labelColor": "black", "rowPadding": 5, "cornerRadius": 0}},
            "strokeDash": {"field": "series", "type": "nominal",
              "scale": {"domain": ["Measurements", "Helm3D", "IVBEM"], "range": [[1, 0], [5, 2, 1, 2], [1, 0]]},
              "legend": {"title": null, "orient": "bottom-right", "offset": 8, "strokeColor": "black", "fillColor": "white", "padding": 6, "symbolType": "M-1,0H7.4", "symbolSize": 100, "symbolStrokeWidth": 1.3, "labelOffset": 34, "labelFontSize": 11, "labelColor": "black", "rowPadding": 5, "cornerRadius": 0}}
          }
        },
        {
          "mark": {"type": "line", "opacity": 0},
          "encoding": {
            "x": {"field": "angle", "type": "quantitative", "scale": {"domain": [0, 180], "nice": false, "zero": false}, "axis": {"orient": "top", "labels": false, "title": "Short model and measurements, angle 90, frequency 250", "titleFontSize": 10.5, "titlePadding": 5, "values": [0, 20, 40, 60, 80, 100, 120, 140, 160, 180]}},
            "y": {"field": "db", "type": "quantitative", "scale": {"domain": [-83, -50], "nice": false, "zero": false}, "axis": {"orient": "right", "labels": false, "title": null, "values": [-80, -75, -70, -65, -60, -55, -50]}},
            "detail": {"field": "series"}
          }
        }
      ],
      "resolve": {"axis": {"x": "independent", "y": "independent"}}
    }
  ]
}
